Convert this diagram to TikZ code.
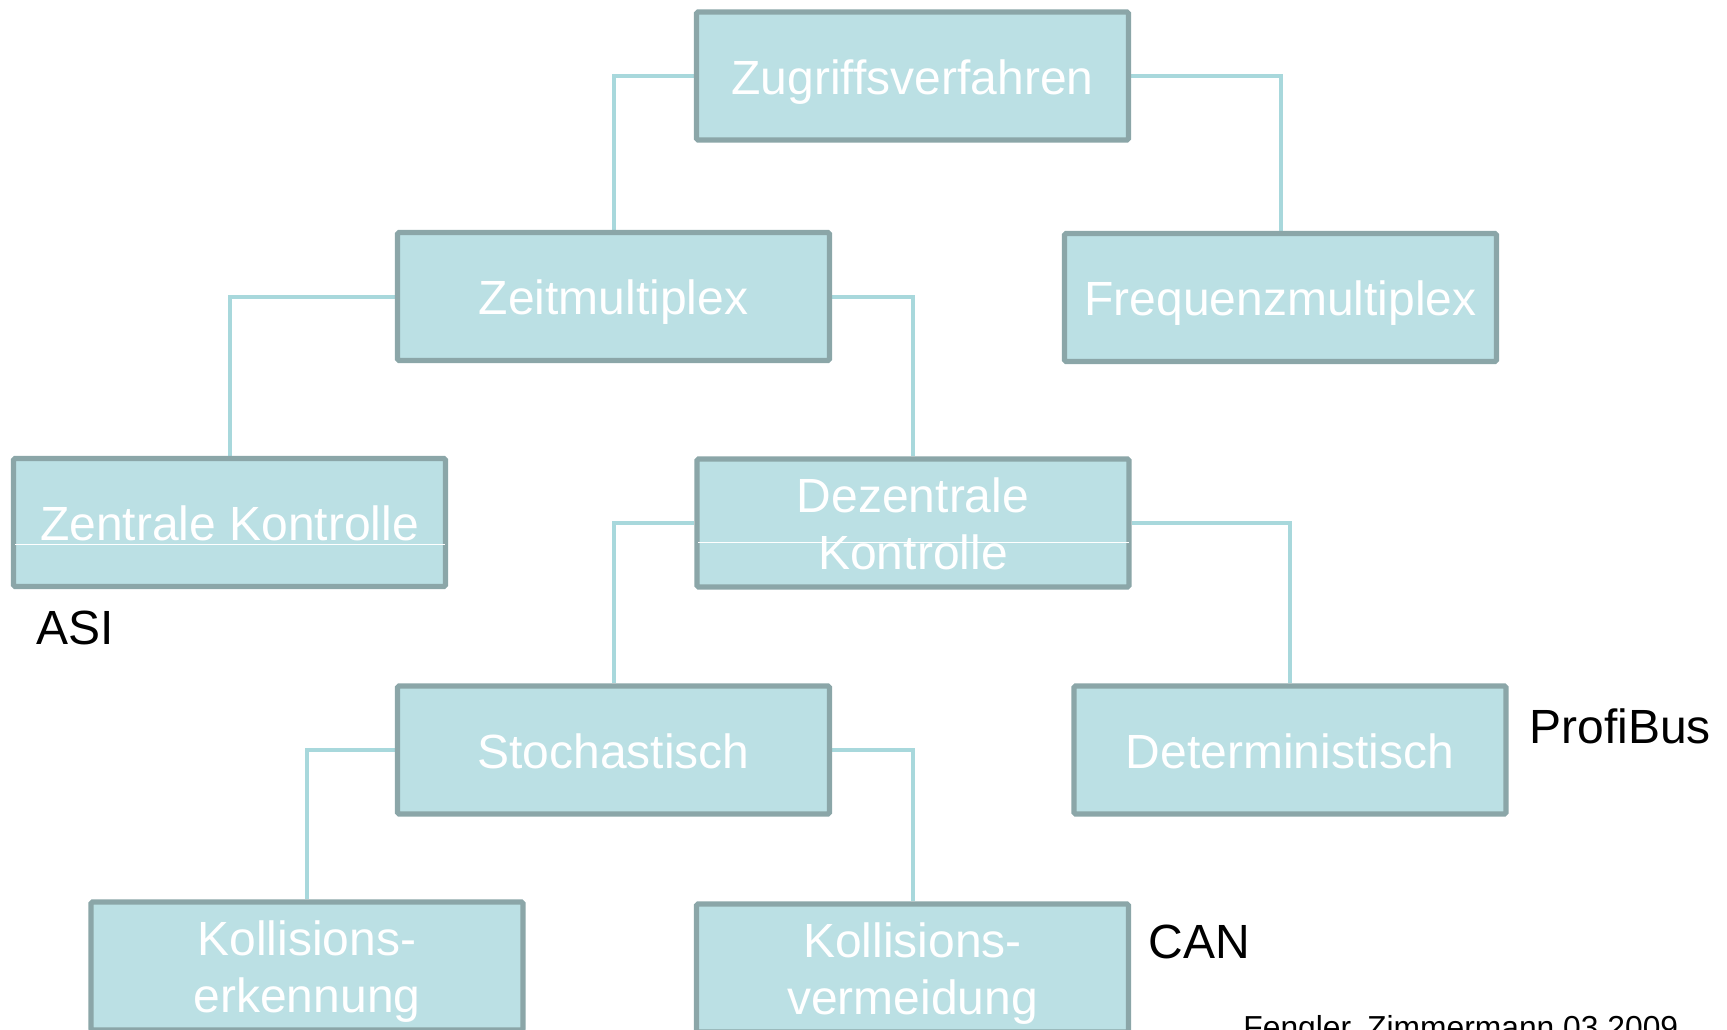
\documentclass[tikz,border=0pt]{standalone}
\usepackage{fontspec}
\setmainfont{Liberation Sans}
\usetikzlibrary{backgrounds}
\definecolor{boxfill}{RGB}{187,224,228}
\definecolor{boxline}{RGB}{139,166,168}
\definecolor{link}{RGB}{168,216,220}
\begin{document}
\begin{tikzpicture}[x=0.5pt,y=-0.5pt,
  box/.style={draw=boxline, line width=2.6pt, fill=boxfill,
    minimum width=216pt, minimum height=64pt, inner sep=0pt,
    text=white, font=\fontsize{24}{28.5}\selectfont, align=center,
    text height=22.8pt, text depth=4.8pt, rounded corners=0.8pt},
  twoline/.style={text height=51.3pt},
  conn/.style={draw=link, line width=2pt},
  rule/.style={draw=white, line width=0.5pt},
  tag/.style={font=\fontsize{24}{28}\selectfont, anchor=base west, inner sep=0pt},
  credit/.style={font=\fontsize{15.9}{19}\selectfont, anchor=base west, inner sep=0pt}]
\useasboundingbox (0,0) rectangle (1727,1029);

% tree of access methods
\node[box] (zug)  at (912.5,76)    {Zugriffsverfahren};
\node[box] (zeit) at (613.5,296.5) {Zeitmultiplex};
\node[box] (freq) at (1280.5,297.5) {Frequenzmultiplex};
\node[box] (zen)  at (229.5,522.5) {Zentrale Kontrolle};
\node[box,twoline] (dez) at (913,523) {Dezentrale\\Kontrolle};
\node[box] (sto)  at (613.5,750)   {Stochastisch};
\node[box] (det)  at (1290,750)    {Deterministisch};
\node[box,twoline] (ke) at (307,966)   {Kollisions-\\erkennung};
\node[box,twoline] (kv) at (912.5,968) {Kollisions-\\vermeidung};

% thin rules inside the control boxes
\draw[rule] ([shift={(4,-45)}]zen.south west) -- ([shift={(-3,-45)}]zen.south east);
\draw[rule] ([shift={(4,-47)}]dez.south west) -- ([shift={(-3,-47)}]dez.south east);

% elbow connectors
\begin{scope}[on background layer]
  \draw[conn] (zug.west)  -| (zeit.north);
  \draw[conn] (zug.east)  -| (freq.north);
  \draw[conn] (zeit.west) -| (zen.north);
  \draw[conn] (zeit.east) -| (dez.north);
  \draw[conn] (dez.west)  -| (sto.north);
  \draw[conn] (dez.east)  -| (det.north);
  \draw[conn] (sto.west)  -| (ke.north);
  \draw[conn] (sto.east)  -| (kv.north);
\end{scope}

% example bus systems
\node[tag] (asi)  at (36,644)   {ASI};
\node[tag] (prof) at (1529,743) {ProfiBus};
\node[tag] (can)  at (1148,958) {CAN};
\node[credit] (src) at (1243,1038) {Fengler, Zimmermann 03.2009};
\end{tikzpicture}
\end{document}
